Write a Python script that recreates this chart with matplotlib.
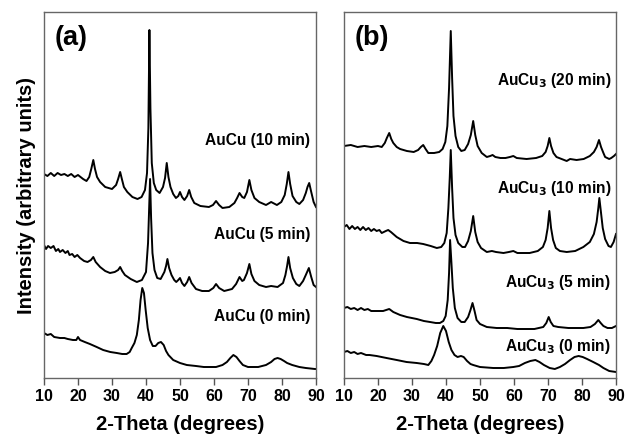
import matplotlib.pyplot as plt

plt.rcParams['font.family'] = ['Liberation Sans', 'DejaVu Sans']
plt.rcParams['font.weight'] = 'bold'

# values: (2-theta, intensity in arbitrary units)

# ---- (a) AuCu ----
aucu_10 = [(10, 204), (11, 202), (12, 205), (13, 202), (14, 205), (15, 203), (16, 204), (17, 202), (18, 204),
           (19, 201), (20, 203), (21.5, 199), (22.5, 197), (23.3, 201), (23.9, 209), (24.5, 218), (25.0, 209),
           (25.6, 201), (26.5, 196), (28, 191), (30, 189), (31.2, 193), (31.8, 199), (32.4, 206), (32.9, 199),
           (33.5, 191), (34.5, 186), (36, 181), (37.5, 179), (38.7, 181), (39.7, 188), (40.3, 205), (40.7, 250),
           (41.0, 348), (41.3, 270), (41.7, 215), (42.3, 195), (43, 188), (44, 185), (45, 191), (45.6, 200),
           (46.1, 215), (46.6, 201), (47.2, 191), (48, 184), (48.8, 180), (49.5, 182), (50, 186), (50.6, 181),
           (51.3, 178), (52.1, 182), (52.7, 188), (53.3, 181), (54.2, 175), (56, 172), (58.5, 171), (59.7, 173),
           (60.6, 177), (61.5, 173), (62.5, 170), (64.5, 171), (66, 175), (66.8, 180), (67.5, 185), (68.3, 181),
           (68.9, 180), (69.7, 186), (70.4, 198), (71.0, 188), (71.9, 180), (73.3, 176), (75.3, 173), (76.8, 176),
           (78.5, 173), (79.8, 176), (80.8, 183), (81.4, 194), (81.9, 206), (82.4, 194), (83.1, 182), (84.2, 176),
           (85.1, 174), (86.2, 178), (87.0, 185), (87.5, 191), (88.0, 195), (88.6, 186), (89.3, 176), (90, 171)]

aucu_5 = [(10, 133), (10.6, 129), (11.2, 132), (12, 130), (12.8, 132), (13.5, 127), (14.2, 129), (14.7, 126),
          (15.5, 128), (16.3, 125), (17.0, 127), (17.5, 123), (18.3, 124), (19, 121), (19.8, 123), (20.6, 120),
          (21.8, 117), (22.8, 116), (23.8, 118), (24.5, 121), (25.2, 116), (26.5, 111), (28, 107), (29.4, 105),
          (30.8, 106), (31.8, 108), (32.4, 111), (33.0, 107), (33.8, 103), (35.5, 99), (37.3, 96), (38.8, 98),
          (40.0, 106), (40.6, 135), (41.2, 199), (41.5, 160), (41.9, 125), (42.5, 108), (43.3, 100), (44.3, 99),
          (45.4, 106), (45.9, 112), (46.3, 119), (46.8, 110), (47.5, 103), (48.3, 98), (48.9, 96), (49.5, 98),
          (50.0, 100), (50.6, 95), (51.3, 92), (52.1, 96), (52.7, 101), (53.4, 95), (54.7, 89), (56.5, 87),
          (58.5, 87), (59.8, 90), (60.6, 94), (61.5, 90), (63, 87), (65.3, 89), (66.5, 94), (67.5, 101),
          (68.3, 97), (68.8, 98), (69.7, 105), (70.4, 114), (71.0, 104), (71.9, 97), (73.3, 93), (75.3, 91),
          (76.8, 92), (78.7, 91), (80.3, 95), (81.0, 103), (81.5, 112), (81.9, 121), (82.4, 110), (83.2, 100),
          (84.2, 94), (85.1, 92), (86.2, 97), (87.0, 103), (87.9, 110), (88.6, 101), (89.3, 93), (90, 91)]

aucu_0 = [(10, 45), (11, 43), (12, 44), (13, 41), (14.7, 40), (16, 40), (17, 39), (18.5, 38), (19.5, 38), (20, 41),
          (20.6, 38), (22, 36), (23.5, 34), (25.5, 31), (27.4, 28), (29.5, 26), (31.4, 25), (33, 24), (34.3, 24),
          (35.2, 26), (35.8, 30), (36.6, 35), (37.3, 43), (37.9, 58), (38.4, 78), (38.9, 90), (39.4, 85),
          (39.9, 68), (40.5, 50), (41.2, 38), (42.0, 32), (42.8, 32), (43.6, 35), (44.4, 36), (45.2, 33),
          (45.9, 27), (46.6, 23), (48, 18), (50, 15), (52, 13), (54.7, 12), (57, 11), (60.6, 11), (62.5, 13),
          (63.8, 16), (64.8, 20), (65.7, 23), (66.6, 21), (67.5, 17), (68.5, 13), (70, 11), (71.4, 11), (73, 11),
          (75.3, 13), (76.8, 16), (77.8, 19), (78.7, 20), (79.6, 19), (80.6, 17), (81.5, 15), (83, 13),
          (85.1, 11), (87, 10), (89.7, 9), (90, 9)]

# ---- (b) AuCu3 ----
aucu3_20 = [(10, 232), (12, 233), (14, 231), (16, 232), (18, 231), (20, 232), (21.1, 231), (22.0, 235),
            (22.6, 240), (23.3, 245), (23.9, 239), (24.5, 235), (25.5, 231), (26.5, 229), (28.5, 227),
            (30.5, 226), (31.8, 228), (32.6, 231), (33.3, 233), (34.0, 229), (34.8, 225), (36.5, 225), (38, 226),
            (39.0, 229), (39.8, 236), (40.4, 252), (40.9, 290), (41.4, 347), (41.8, 300), (42.2, 262),
            (42.8, 242), (43.6, 231), (44.5, 227), (45.5, 228), (46.5, 234), (47.3, 243), (48.0, 257),
            (48.6, 243), (49.3, 232), (50.5, 225), (52, 221), (53, 222), (53.7, 223), (54.5, 221), (56, 220),
            (57.5, 220), (58.8, 221), (59.8, 222), (60.8, 220), (63.7, 219), (66.5, 220), (68.3, 222),
            (69.3, 226), (69.9, 232), (70.4, 240), (70.9, 232), (71.6, 225), (72.5, 221), (74, 219), (75.5, 217),
            (76.5, 219), (78.4, 218), (80.5, 219), (82.3, 222), (83.5, 226), (84.3, 231), (85.0, 238),
            (85.6, 231), (86.3, 225), (86.8, 221), (88, 219), (88.6, 220), (89.4, 222), (90, 224)]

aucu3_10 = [(10, 151), (10.8, 153), (11.6, 149), (12.4, 152), (13.2, 149), (14, 151), (14.8, 148), (15.6, 151),
            (16.4, 148), (17.2, 150), (18, 147), (18.8, 149), (19.6, 147), (20.4, 148), (21.1, 145), (22.3, 147),
            (23.0, 148), (23.8, 146), (25.5, 141), (27.5, 137), (29.4, 135), (31.5, 135), (33.3, 134),
            (35.5, 132), (37.3, 130), (38.6, 131), (39.5, 135), (40.2, 145), (40.7, 170), (41.1, 200),
            (41.4, 228), (41.8, 190), (42.2, 160), (42.8, 143), (43.6, 135), (44.8, 131), (45.6, 131),
            (46.5, 137), (47.3, 147), (48.0, 162), (48.6, 146), (49.3, 136), (50.3, 130), (52, 126), (53.5, 127),
            (54.7, 126), (56.9, 125), (58.5, 126), (59.8, 127), (61, 125), (64.6, 125), (67, 127), (68.5, 131),
            (69.3, 138), (69.9, 150), (70.4, 167), (70.9, 150), (71.5, 138), (72.3, 130), (73.5, 127),
            (75.5, 126), (78, 127), (80.4, 131), (82.3, 136), (83.5, 144), (84.3, 156), (84.8, 170), (85.1, 180),
            (85.5, 168), (86.1, 150), (86.8, 139), (87.8, 132), (88.5, 131), (89.3, 136), (90, 144)]

aucu3_5 = [(10, 70), (11, 71), (12, 69), (13, 70), (14, 68), (15, 70), (16, 68), (17, 69), (18, 67), (19.6, 67),
           (21.5, 67), (23.3, 69), (24.5, 66), (26.5, 63), (28.5, 61), (31.4, 59), (33.5, 57), (35.3, 56), (37, 55),
           (38.2, 55), (39.2, 57), (39.9, 62), (40.5, 78), (40.9, 105), (41.2, 138), (41.6, 115), (42.0, 90),
           (42.6, 70), (43.4, 60), (44.5, 56), (45.5, 56), (46.5, 61), (47.2, 68), (47.8, 75), (48.4, 67),
           (49.0, 58), (50, 54), (52, 51), (54.9, 50), (58, 50), (61, 49), (63.7, 49), (66, 49), (68.6, 51),
           (69.5, 55), (70.2, 61), (70.8, 56), (71.6, 52), (73, 51), (76, 50), (80.4, 50), (82.5, 51),
           (83.8, 54), (84.8, 58), (85.5, 55), (86.3, 52), (87.5, 50), (88.8, 50), (90, 52)]

aucu3_0 = [(10, 26), (11, 27), (12, 25), (13, 26), (14, 24), (15, 25), (16.5, 23), (17.5, 23), (19.6, 22),
           (22.5, 20), (25.5, 18), (28.4, 16), (31.4, 15), (33.5, 14), (34.8, 13), (35.7, 17), (36.5, 23),
           (37.4, 32), (38.3, 45), (39.2, 52), (40.0, 47), (40.8, 36), (41.6, 28), (42.5, 23), (43.4, 21),
           (44.4, 22), (45.2, 21), (46.2, 17), (47.2, 14), (48, 13), (50, 11), (53.9, 10), (57, 10), (59.8, 11),
           (61.5, 12), (63.2, 15), (64.8, 17), (66.3, 18), (67.5, 16), (68.8, 13), (70.5, 10), (72, 9),
           (73.5, 11), (75, 14), (76.5, 18), (77.8, 21), (79.0, 22), (80.2, 21), (81.5, 19), (83.3, 16),
           (85, 13), (86.3, 10), (88, 7), (90, 6)]

labels_a = ['AuCu (10 min)', 'AuCu (5 min)', 'AuCu (0 min)']
label_a_y = [237, 143, 62]
labels_b = ['AuCu$_\\mathbf{3}$ (20 min)', 'AuCu$_\\mathbf{3}$ (10 min)',
            'AuCu$_\\mathbf{3}$ (5 min)', 'AuCu$_\\mathbf{3}$ (0 min)']
label_b_y = [298, 190, 95, 31]

fig = plt.figure(figsize=(6.26, 4.41), dpi=100)
ax1 = fig.add_axes([44 / 626, 63 / 441, 272 / 626, 366 / 441])
ax2 = fig.add_axes([344 / 626, 63 / 441, 272 / 626, 366 / 441])

for curve in [aucu_10, aucu_5, aucu_0]:
    x, y = zip(*curve)
    ax1.plot(x, y, color='black', lw=1.4)

for curve in [aucu3_20, aucu3_10, aucu3_5, aucu3_0]:
    x, y = zip(*curve)
    ax2.plot(x, y, color='black', lw=1.4)

for ax in [ax1, ax2]:
    ax.set_xlim(10, 90)
    ax.set_ylim(0, 366)
    ax.set_xticks(range(10, 91, 10))
    ax.set_yticks([])
    ax.tick_params(axis='x', direction='out', length=5, width=1, color='#555555',
                   labelsize=11.5, pad=3)
    for s in ax.spines.values():
        s.set_color('#666666')
        s.set_linewidth(1)
    ax.set_xlabel('2-Theta (degrees)', fontsize=14.5, fontweight='bold', labelpad=8)

ax1.set_ylabel('Intensity (arbitrary units)', fontsize=14.5, fontweight='bold', labelpad=6)

ax1.text(0.04, 0.93, '(a)', transform=ax1.transAxes, fontsize=19.5, fontweight='bold', va='center')
ax2.text(0.04, 0.93, '(b)', transform=ax2.transAxes, fontsize=19.5, fontweight='bold', va='center')

for t, yy in zip(labels_a, label_a_y):
    ax1.text(88.2, yy, t, fontsize=11.2, fontweight='bold', ha='right', va='center')
for t, yy in zip(labels_b, label_b_y):
    ax2.text(88.6, yy, t, fontsize=11.2, fontweight='bold', ha='right', va='center')

fig.savefig('out.png', dpi=100)
